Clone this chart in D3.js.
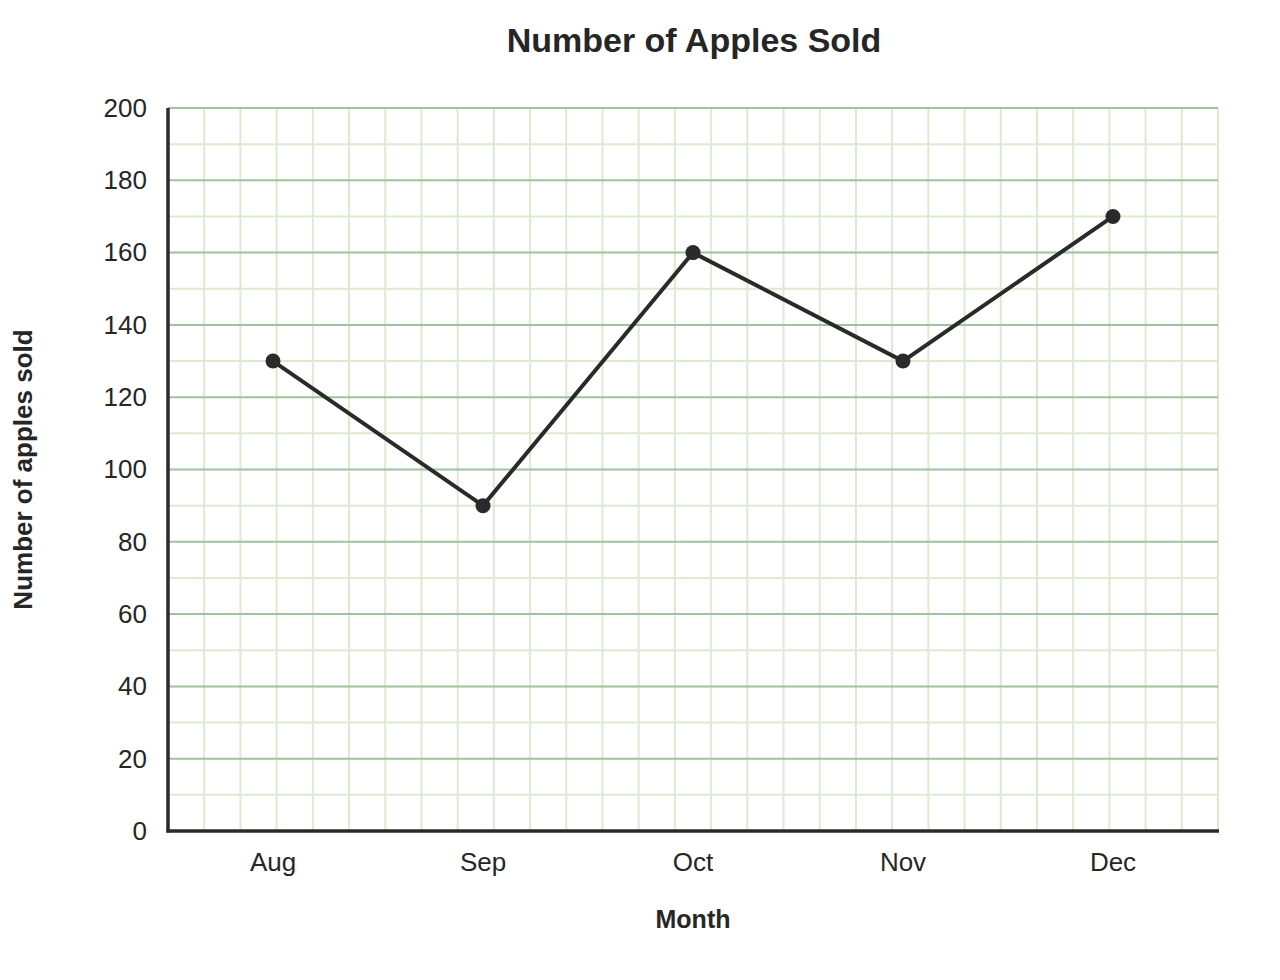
<!DOCTYPE html>
<html>
<head>
<meta charset="utf-8">
<script src="https://cdn.jsdelivr.net/npm/d3@7"></script>
<style>
  html, body { margin: 0; padding: 0; background: #fff; }
  text { font-family: "Liberation Sans", Arial, sans-serif; fill: #262626; }
</style>
</head>
<body>
<svg id="chart" width="1280" height="980"></svg>
<script>
const months = ["Aug", "Sep", "Oct", "Nov", "Dec"];
const applesSold = [130, 90, 160, 130, 170];
const yTicks = [0, 20, 40, 60, 80, 100, 120, 140, 160, 180, 200];
const yMinorTicks = [10, 30, 50, 70, 90, 110, 130, 150, 170, 190];
const gridColumns = 29;
const titleText = "Number of Apples Sold";
const xLabelText = "Month";
const yLabelText = "Number of apples sold";

const W = 1280, H = 980;
const margin = { top: 108, right: 62, bottom: 149, left: 168 };
const iw = W - margin.left - margin.right;
const ih = H - margin.top - margin.bottom;

const svg = d3.select("#chart");
const g = svg.append("g").attr("transform", `translate(${margin.left},${margin.top})`);

const x = d3.scaleBand().domain(months).range([0, iw]).padding(0);
const y = d3.scaleLinear().domain([0, 200]).range([ih, 0]);
const xg = d3.scaleLinear().domain([0, gridColumns]).range([0, iw]);

// minor vertical grid
g.append("g").selectAll("line").data(d3.range(1, gridColumns + 1)).join("line")
  .attr("x1", d => xg(d)).attr("x2", d => xg(d))
  .attr("y1", 0).attr("y2", ih)
  .attr("stroke", "#dcebd0").attr("stroke-width", 2);

// minor horizontal grid
g.append("g").selectAll("line").data(yMinorTicks).join("line")
  .attr("x1", 0).attr("x2", iw)
  .attr("y1", d => y(d)).attr("y2", d => y(d))
  .attr("stroke", "#dcebd0").attr("stroke-width", 2);

// major horizontal grid
g.append("g").selectAll("line").data(yTicks.filter(d => d > 0)).join("line")
  .attr("x1", 0).attr("x2", iw)
  .attr("y1", d => y(d)).attr("y2", d => y(d))
  .attr("stroke", "#9dc49d").attr("stroke-width", 2);

// y axis
const yAxis = g.append("g").call(d3.axisLeft(y).tickValues(yTicks).tickSize(0).tickPadding(21));
yAxis.select(".domain").remove();
yAxis.selectAll("text").attr("font-size", 26).style("fill", "#262626")
  .attr("font-family", "Liberation Sans, Arial, sans-serif");

// x axis
const xAxis = g.append("g").attr("transform", `translate(0,${ih})`)
  .call(d3.axisBottom(x).tickSize(0).tickPadding(22));
xAxis.select(".domain").remove();
xAxis.selectAll("text").attr("font-size", 26).style("fill", "#262626")
  .attr("font-family", "Liberation Sans, Arial, sans-serif");

// axis lines
g.append("line").attr("x1", 0).attr("x2", 0).attr("y1", 0).attr("y2", ih + 1.5)
  .attr("stroke", "#2a2a2a").attr("stroke-width", 3.5);
g.append("line").attr("x1", -1.5).attr("x2", iw + 1).attr("y1", ih).attr("y2", ih)
  .attr("stroke", "#2a2a2a").attr("stroke-width", 3.5);

// line
const data = months.map((m, i) => ({ m, v: applesSold[i] }));
const cx = d => x(d.m) + x.bandwidth() / 2;
g.append("path").datum(data)
  .attr("d", d3.line().x(cx).y(d => y(d.v)))
  .attr("fill", "none").attr("stroke", "#2a2a2a").attr("stroke-width", 4)
  .attr("stroke-linejoin", "miter");
g.append("g").selectAll("circle").data(data).join("circle")
  .attr("cx", cx).attr("cy", d => y(d.v)).attr("r", 7.5)
  .attr("fill", "#2a2a2a");

// title & labels
svg.append("text").attr("x", margin.left + iw / 2 + 1).attr("y", 52)
  .attr("text-anchor", "middle").attr("font-size", 34).attr("font-weight", "bold")
  .text(titleText);
svg.append("text").attr("x", margin.left + iw / 2).attr("y", 928)
  .attr("text-anchor", "middle").attr("font-size", 25).attr("font-weight", "bold")
  .text(xLabelText);
svg.append("text").attr("transform", `translate(32,${margin.top + ih / 2}) rotate(-90)`)
  .attr("text-anchor", "middle").attr("font-size", 26).attr("font-weight", "bold")
  .text(yLabelText);
</script>
</body>
</html>
